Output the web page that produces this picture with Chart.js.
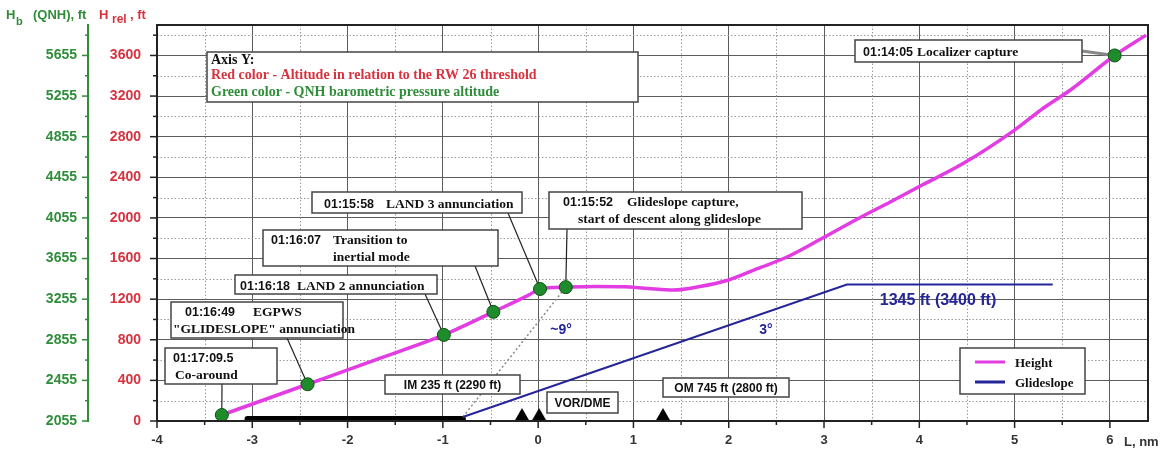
<!DOCTYPE html>
<html>
<head>
<meta charset="utf-8">
<script src="https://cdn.jsdelivr.net/npm/chart.js@4.4.1/dist/chart.umd.min.js"></script>
<style>
  html, body { margin: 0; padding: 0; background: #fff; }
  canvas { display: block; }
</style>
</head>
<body>
<canvas id="chart" width="1170" height="455"></canvas>
<script>
/* global Chart */
// tick labels
var xTicks = [-4, -3, -2, -1, 0, 1, 2, 3, 4, 5, 6];
var relTicks = [0, 400, 800, 1200, 1600, 2000, 2400, 2800, 3200, 3600];
var qnhTicks = [2055, 2455, 2855, 3255, 3655, 4055, 4455, 4855, 5255, 5655];

// height above RW 26 threshold vs distance (nm)
var heightL = [-3.32, -2.42, -1.7, -0.99, -0.47, -0.1, 0.02, 0.29, 0.6, 0.9, 1.15, 1.42, 1.7, 2.0, 2.3, 2.6, 3.0, 3.37, 3.7, 4.0, 4.45, 5.0, 5.3, 5.6, 6.05, 6.38];
var heightH = [59, 362, 605, 848, 1075, 1240, 1300, 1318, 1325, 1322, 1305, 1290, 1325, 1389, 1500, 1610, 1810, 2000, 2160, 2310, 2530, 2865, 3080, 3270, 3600, 3800];

// 3 deg glideslope
var glideL = [-0.79, 3.24, 5.4];
var glideH = [40, 1345, 1345];

// ~9 deg dotted line
var steepL = [-0.79, 0.29];
var steepH = [40, 1318];

// runway bar
var runwayL = [-3.05, -0.79];
var runwayH = [20, 20];

// beacons (IM, VOR/DME, OM)
var beaconL = [-0.17, 0.01, 1.31];
var beaconH = [0, 0, 0];

// events
var eventL = [6.05, 0.02, 0.29, -0.47, -0.99, -2.42, -3.32];
var eventH = [3600, 1300, 1318, 1075, 848, 362, 59];
var eventTime = ['01:14:05', '01:15:58', '01:15:52', '01:16:07', '01:16:18', '01:16:49', '01:17:09.5'];

var RED = '#d8323f';
var GREEN = '#2f8d3a';
var BLUE = '#25259a';
var MAGENTA = '#e23ce2';
var SANS = '"Liberation Sans", Arial, sans-serif';
var SERIF = '"Liberation Serif", "Times New Roman", serif';

function pts(xs, ys) {
  return xs.map(function (x, i) { return { x: x, y: ys[i] }; });
}

function beaconIcon() {
  var c = document.createElement('canvas');
  c.width = 16; c.height = 28;
  var g = c.getContext('2d');
  g.fillStyle = '#000';
  g.beginPath();
  g.moveTo(8, 1); g.lineTo(15.5, 14); g.lineTo(0.5, 14);
  g.closePath(); g.fill();
  return c;
}

// annotation boxes (pixels); from = connector start, ev = event index
var notes = [
  { box: [855, 40, 227, 22], ev: 0, from: [1082, 51], lines: [[[eventTime[0], 8, 'sans'], ['Localizer capture', 62, 'serif']]] },
  { box: [312, 192, 210, 21], ev: 1, from: [508, 213], lines: [[[eventTime[1], 12, 'sans'], ['LAND 3 annunciation', 74, 'serif']]] },
  { box: [549, 192, 253, 37], ev: 2, from: [567, 229], lines: [[[eventTime[2], 14, 'sans'], ['Glideslope capture,', 78, 'serif']], [['start of descent along glideslope', 29, 'serif']]] },
  { box: [263, 230, 235, 36], ev: 3, from: [475, 266], lines: [[[eventTime[3], 8, 'sans'], ['Transition to', 70, 'serif']], [['inertial mode', 70, 'serif']]] },
  { box: [235, 275, 202, 19], ev: 4, from: [425, 294], lines: [[[eventTime[4], 5, 'sans'], ['LAND 2 annunciation', 62, 'serif']]] },
  { box: [171, 302, 172, 36], ev: 5, from: [287, 338], lines: [[[eventTime[5], 14, 'sans'], ['EGPWS', 82, 'serif']], [['"GLIDESLOPE" annunciation', 2, 'serif']]] },
  { box: [165, 348, 112, 36], ev: 6, from: [222, 384], lines: [[[eventTime[6], 8, 'sans']], [['Co-around', 10, 'serif']]] },
  { box: [385, 375, 135, 19], center: 'IM 235 ft (2290 ft)' },
  { box: [547, 392, 71, 21], center: 'VOR/DME' },
  { box: [663, 378, 126, 19], center: 'OM 745 ft (2800 ft)' }
];

function drawBox(ctx, b) {
  ctx.fillStyle = '#fff';
  ctx.fillRect(b[0], b[1], b[2], b[3]);
  ctx.strokeStyle = '#444';
  ctx.lineWidth = 1.5;
  ctx.setLineDash([]);
  ctx.strokeRect(b[0], b[1], b[2], b[3]);
}

var decor = {
  id: 'decor',
  beforeDatasetsDraw: function (chart) {
    var ctx = chart.ctx, a = chart.chartArea;
    var xs = chart.scales.x, ys = chart.scales.y;
    ctx.save();
    // minor dotted grid
    ctx.strokeStyle = '#9a9a9a';
    ctx.lineWidth = 1;
    ctx.setLineDash([1.5, 2]);
    for (var v = -3.5; v < 6.4; v += 1) {
      var px = Math.round(xs.getPixelForValue(v)) + 0.5;
      ctx.beginPath(); ctx.moveTo(px, a.top); ctx.lineTo(px, a.bottom); ctx.stroke();
    }
    for (var h = 200; h < 3900; h += 400) {
      var py = Math.round(ys.getPixelForValue(h)) + 0.5;
      ctx.beginPath(); ctx.moveTo(a.left, py); ctx.lineTo(a.right, py); ctx.stroke();
    }
    ctx.setLineDash([]);
    // connectors
    notes.forEach(function (n) {
      if (n.ev === undefined) return;
      var tx = xs.getPixelForValue(eventL[n.ev]);
      var ty = ys.getPixelForValue(eventH[n.ev]);
      ctx.strokeStyle = n.ev === 0 ? '#888' : '#222';
      ctx.lineWidth = n.ev === 0 ? 3 : 1.2;
      ctx.beginPath(); ctx.moveTo(n.from[0], n.from[1]); ctx.lineTo(tx, ty); ctx.stroke();
    });
    ctx.restore();
  },
  afterDatasetsDraw: function (chart) {
    var ctx = chart.ctx;
    ctx.save();
    ctx.textBaseline = 'alphabetic';
    notes.forEach(function (n) {
      var b = n.box;
      drawBox(ctx, b);
      ctx.fillStyle = '#111';
      if (n.center) {
        ctx.font = 'bold 12px ' + SANS;
        ctx.textAlign = 'center';
        ctx.fillText(n.center, b[0] + b[2] / 2, b[1] + b[3] / 2 + 4.5);
        return;
      }
      ctx.textAlign = 'left';
      var base = n.lines.length === 1 ? b[1] + b[3] / 2 + 5 : b[1] + 14;
      n.lines.forEach(function (line, li) {
        line.forEach(function (seg) {
          ctx.font = seg[2] === 'sans' ? 'bold 12.5px ' + SANS : 'bold 13.5px ' + SERIF;
          ctx.fillText(seg[0], b[0] + seg[1], base + li * 17);
        });
      });
    });

    // Axis Y explanation box
    drawBox(ctx, [207, 52, 431, 50]);
    ctx.textAlign = 'left';
    ctx.font = 'bold 14px ' + SERIF;
    ctx.fillStyle = '#111';
    ctx.fillText('Axis Y:', 211, 64);
    ctx.fillStyle = RED;
    ctx.fillText('Red color - Altitude in relation to the RW 26 threshold', 211, 79);
    ctx.fillStyle = GREEN;
    ctx.fillText('Green color - QNH barometric pressure altitude', 211, 96);

    // angle / level labels
    ctx.fillStyle = BLUE;
    ctx.textAlign = 'center';
    ctx.font = 'bold 14px ' + SANS;
    ctx.fillText('~9°', 561, 334);
    ctx.fillText('3°', 766, 334);
    ctx.font = 'bold 16px ' + SANS;
    ctx.fillText('1345 ft (3400 ft)', 938, 305);

    // legend
    drawBox(ctx, [960, 348, 125, 46]);
    var ds = chart.data.datasets;
    [ds[2], ds[3]].forEach(function (d, i) {
      var y = 362 + i * 20;
      ctx.strokeStyle = d.borderColor;
      ctx.lineWidth = 3;
      ctx.beginPath(); ctx.moveTo(975, y); ctx.lineTo(1005, y); ctx.stroke();
      ctx.fillStyle = '#111';
      ctx.textAlign = 'left';
      ctx.font = 'bold 13px ' + SERIF;
      ctx.fillText(d.label, 1015, y + 5);
    });
    ctx.restore();
  },
  afterDraw: function (chart) {
    var ctx = chart.ctx, a = chart.chartArea;
    var xs = chart.scales.x, ys = chart.scales.y, qs = chart.scales.q;
    ctx.save();
    // frame
    ctx.strokeStyle = '#222';
    ctx.lineWidth = 2;
    ctx.strokeRect(a.left, a.top, a.right - a.left, a.bottom - a.top);
    // tick marks
    ctx.lineWidth = 1.5;
    for (var v = -4; v <= 6; v += 0.5) {
      var px = xs.getPixelForValue(v);
      var len = v % 1 === 0 ? 7 : 4;
      ctx.beginPath(); ctx.moveTo(px, a.bottom); ctx.lineTo(px, a.bottom + len); ctx.stroke();
    }
    for (var h = 0; h <= 3800; h += 200) {
      var py = ys.getPixelForValue(h);
      var l2 = h % 400 === 0 ? 7 : 4;
      ctx.strokeStyle = '#222';
      ctx.beginPath(); ctx.moveTo(a.left, py); ctx.lineTo(a.left - l2, py); ctx.stroke();
      var gx = qs.right;
      ctx.strokeStyle = GREEN;
      ctx.beginPath(); ctx.moveTo(gx, py); ctx.lineTo(gx - (h % 400 === 0 ? 6 : 3), py); ctx.stroke();
    }
    // axis titles
    ctx.textAlign = 'left';
    ctx.fillStyle = GREEN;
    ctx.font = 'bold 13px ' + SANS;
    ctx.fillText('H', 6, 19);
    ctx.font = 'bold 11px ' + SANS;
    ctx.fillText('b', 16, 25);
    ctx.font = 'bold 13px ' + SANS;
    ctx.fillText('(QNH), ft', 33, 19);
    ctx.fillStyle = RED;
    ctx.fillText('H', 99, 19);
    ctx.font = 'bold 12px ' + SANS;
    ctx.fillText('rel', 112, 23);
    ctx.font = 'bold 13px ' + SANS;
    ctx.fillText(', ft', 130, 19);
    ctx.fillStyle = '#333';
    ctx.fillText('L, nm', 1124, 446);
    ctx.restore();
  }
};

var tickFont = function (size) { return { family: SANS, size: size, weight: 'bold' }; };
var plain = function (v) { return String(v); };

new Chart(document.getElementById('chart'), {
  type: 'scatter',
  data: {
    datasets: [
      {
        label: 'Events',
        data: pts(eventL, eventH),
        pointRadius: 6.5,
        pointBackgroundColor: '#1f8c2b',
        pointBorderColor: '#0f5216',
        pointBorderWidth: 1,
        clip: false
      },
      {
        label: 'Beacons',
        data: pts(beaconL, beaconH),
        pointStyle: beaconIcon(),
        clip: false
      },
      {
        label: 'Height',
        data: pts(heightL, heightH),
        showLine: true,
        borderColor: MAGENTA,
        borderWidth: 3.5,
        pointRadius: 0,
        tension: 0.3,
        cubicInterpolationMode: 'monotone'
      },
      {
        label: 'Glideslope',
        data: pts(glideL, glideH),
        showLine: true,
        borderColor: BLUE,
        borderWidth: 2,
        pointRadius: 0
      },
      {
        label: 'Steep',
        data: pts(steepL, steepH),
        showLine: true,
        borderColor: '#888',
        borderWidth: 1.5,
        borderDash: [2, 2.5],
        pointRadius: 0
      },
      {
        label: 'Runway',
        data: pts(runwayL, runwayH),
        showLine: true,
        borderColor: '#000',
        borderWidth: 6,
        borderCapStyle: 'round',
        pointRadius: 0
      }
    ]
  },
  options: {
    responsive: false,
    animation: false,
    events: [],
    devicePixelRatio: 1,
    layout: { padding: { top: 25, right: 22, bottom: 0, left: 0 } },
    plugins: { legend: { display: false }, tooltip: { enabled: false } },
    scales: {
      x: {
        type: 'linear', min: -4, max: 6.4,
        afterBuildTicks: function (s) { s.ticks = xTicks.map(function (v) { return { value: v }; }); },
        afterFit: function (s) { s.height = 34; },
        ticks: { color: '#333', font: tickFont(13), padding: 12, maxRotation: 0, autoSkip: false, callback: plain },
        grid: { color: '#5c5c5c', lineWidth: 1, drawTicks: false },
        border: { color: '#222', width: 2 }
      },
      y: {
        type: 'linear', position: 'left', weight: 0, min: 0, max: 3900,
        afterBuildTicks: function (s) { s.ticks = relTicks.map(function (v) { return { value: v }; }); },
        afterFit: function (s) { s.width = 69; },
        ticks: { color: RED, font: tickFont(14), padding: 16, callback: plain },
        grid: { color: '#5c5c5c', lineWidth: 1, drawTicks: false },
        border: { color: '#222', width: 2 }
      },
      q: {
        type: 'linear', position: 'left', weight: 1, min: 2055, max: 5955,
        afterBuildTicks: function (s) { s.ticks = qnhTicks.map(function (v) { return { value: v }; }); },
        afterFit: function (s) { s.width = 88; },
        ticks: { color: GREEN, font: tickFont(14), padding: 11, callback: plain },
        grid: { drawOnChartArea: false, drawTicks: false },
        border: { color: GREEN, width: 2 }
      }
    }
  },
  plugins: [decor]
});
</script>
</body>
</html>
